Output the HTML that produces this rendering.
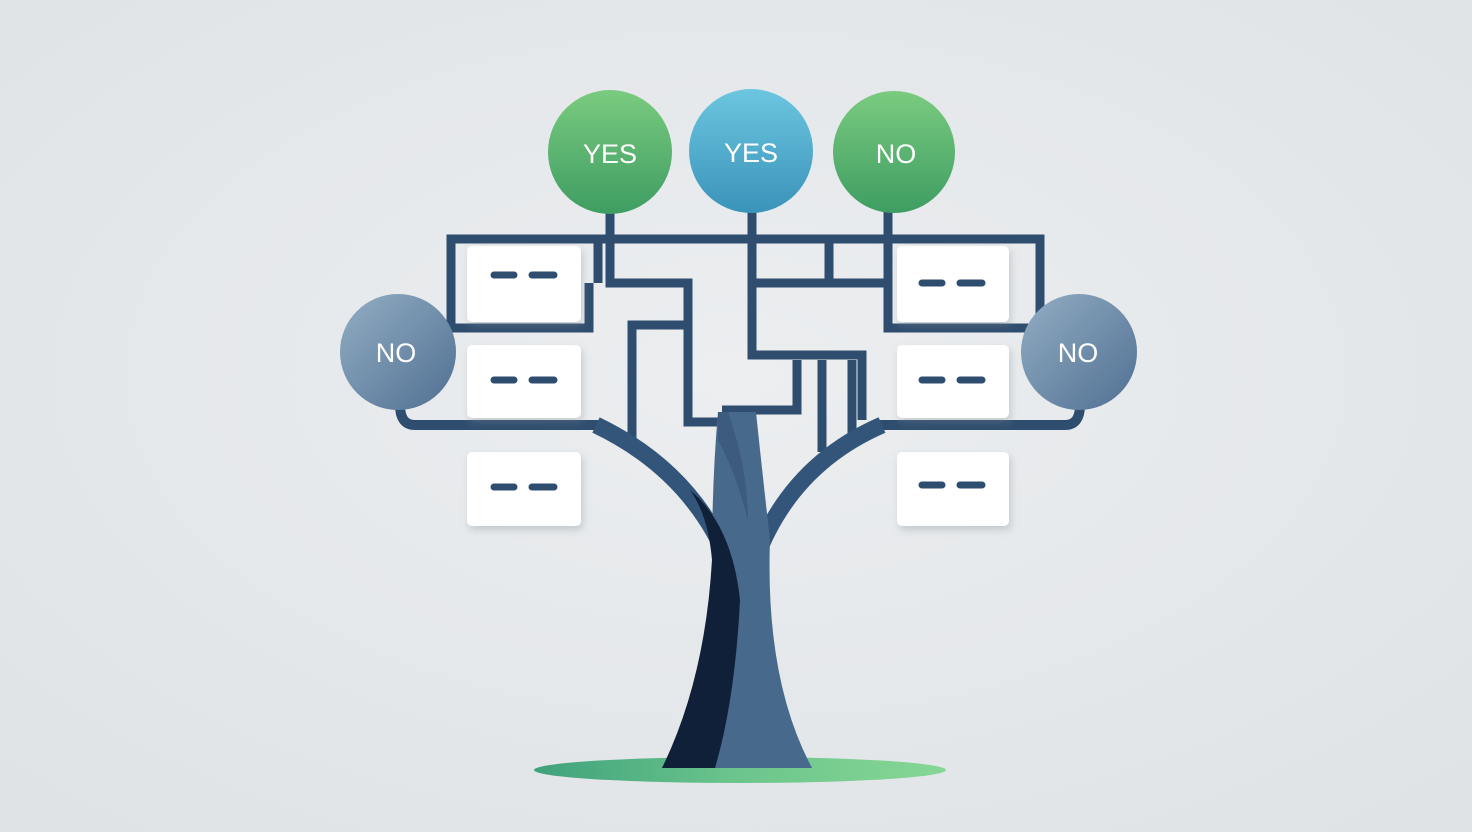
<!DOCTYPE html>
<html><head><style>
html,body{margin:0;padding:0;background:#e5e8ea;}
svg{display:block;}
text{font-family:"Liberation Sans",sans-serif;fill:#fff;font-size:27px;text-anchor:middle;}
</style></head><body>
<svg width="1472" height="832" viewBox="0 0 1472 832">
<defs>
<radialGradient id="bg" cx="50%" cy="45%" r="70%"><stop offset="0" stop-color="#eceef0"/><stop offset="1" stop-color="#dfe3e6"/></radialGradient>
<linearGradient id="gr" x1="0" x2="1"><stop offset="0" stop-color="#3fa27c"/><stop offset="0.5" stop-color="#6cc58c"/><stop offset="1" stop-color="#86d795"/></linearGradient>
<linearGradient id="g1" x1="0" y1="0" x2="0" y2="1"><stop offset="0" stop-color="#7acb7f"/><stop offset="1" stop-color="#3e9d62"/></linearGradient>
<linearGradient id="b1" x1="0" y1="0" x2="0" y2="1"><stop offset="0" stop-color="#6cc6e0"/><stop offset="1" stop-color="#3a93b9"/></linearGradient>
<linearGradient id="n1" x1="0" y1="0" x2="1" y2="1"><stop offset="0" stop-color="#93aec4"/><stop offset="1" stop-color="#506f92"/></linearGradient>
<filter id="sh" x="-20%" y="-20%" width="150%" height="150%"><feDropShadow dx="2" dy="4" stdDeviation="4" flood-color="#7b8a96" flood-opacity="0.35"/></filter>
</defs>
<rect width="1472" height="832" fill="url(#bg)"/>
<ellipse cx="740" cy="770" rx="206" ry="13" fill="url(#gr)"/>
<g fill="none" stroke="#2f4d6e" stroke-width="9" stroke-linejoin="miter">
<path d="M610 205V283H688V422H722"/>
<path d="M598 239V283"/>
<path d="M752 205V355H862V420"/>
<path d="M888 205V328H1040V239H451V328H589V283"/>
<path d="M752 283H888M829 239V283"/>
<path d="M632 440V325H688"/>
<path d="M722 410H797V360"/>
<path d="M822 360V452M852 360V440"/>
<path d="M400 405Q400 425 415 425H600" stroke-width="10"/>
<path d="M1080 405Q1080 425 1065 425H878" stroke-width="10"/>
</g>
<g fill="none" stroke="#34557a" stroke-width="17" stroke-linecap="butt">
<path d="M596 425Q690 470 728 560"/>
<path d="M882 425Q790 465 755 560"/>
</g>
<path d="M718 412H756Q762 470 770 540Q765 680 812 768H662Q710 680 712 560Q712 480 718 412Z" fill="#47698c"/>
<path d="M662 768Q705 680 712 560Q708 515 690 490Q732 525 740 600Q735 700 715 768Z" fill="#0f2038"/>
<path d="M718 412L728 412Q748 470 748 520Q735 470 718 440Z" fill="#3c5b7d"/>
<g filter="url(#sh)" fill="#fff">
<rect x="467" y="246" width="114" height="76" rx="5"/>
<rect x="467" y="345" width="114" height="73" rx="5"/>
<rect x="467" y="452" width="114" height="74" rx="5"/>
<rect x="897" y="246" width="112" height="76" rx="5"/>
<rect x="897" y="345" width="112" height="73" rx="5"/>
<rect x="897" y="452" width="112" height="74" rx="5"/>
</g>
<g stroke="#2f4d6e" stroke-width="7" stroke-linecap="round">
<path d="M494 275H514M532 275H554"/>
<path d="M494 380H514M532 380H554"/>
<path d="M494 487H514M532 487H554"/>
<path d="M922 283H942M960 283H982"/>
<path d="M922 380H942M960 380H982"/>
<path d="M922 485H942M960 485H982"/>
</g>
<circle cx="610" cy="152" r="62" fill="url(#g1)"/>
<circle cx="751" cy="151" r="62" fill="url(#b1)"/>
<circle cx="894" cy="152" r="61" fill="url(#g1)"/>
<circle cx="398" cy="352" r="58" fill="url(#n1)"/>
<circle cx="1079" cy="352" r="58" fill="url(#n1)"/>
<text x="610" y="163">YES</text>
<text x="751" y="162">YES</text>
<text x="896" y="163">NO</text>
<text x="396" y="362">NO</text>
<text x="1078" y="362">NO</text>
</svg>
</body></html>
